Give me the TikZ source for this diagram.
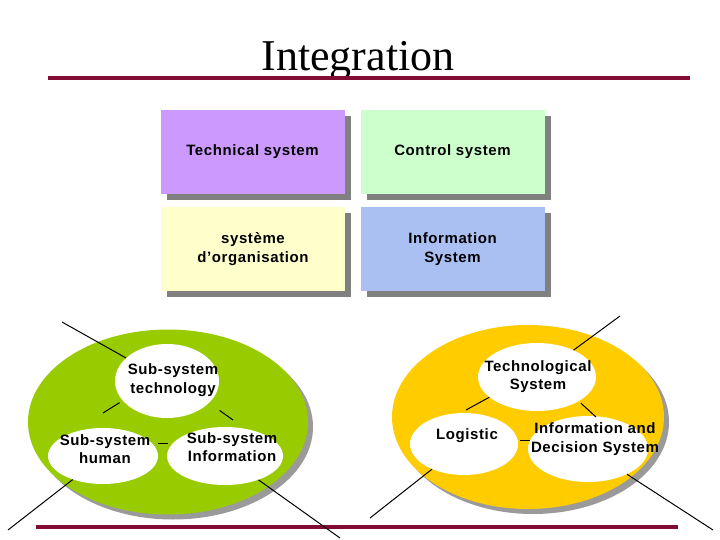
\documentclass[tikz,border=0pt]{standalone}
\usepackage{fontspec}
\setmainfont{Liberation Sans}
\newfontfamily\titlefont{Liberation Serif}
\newfontfamily\lblfont[LetterSpace=4]{Liberation Sans}
\usetikzlibrary{shapes.geometric,shadows}
\definecolor{maroon}{HTML}{820C33}
\definecolor{techc}{HTML}{CC99FF}
\definecolor{ctrlc}{HTML}{CCFFCC}
\definecolor{orgc}{HTML}{FFFFCC}
\definecolor{infoc}{HTML}{AABFF2}
\definecolor{greenc}{HTML}{99CC00}
\definecolor{orangec}{HTML}{FFCC00}
\definecolor{boxshadow}{HTML}{808080}
\definecolor{ellshadow}{HTML}{9A9A9A}
\tikzset{
  rule/.style={draw=maroon, line width=4pt},
  box/.style={rectangle, minimum width=184pt, minimum height=84pt, inner sep=0pt,
    font=\lblfont\bfseries\fontsize{15}{19}\selectfont, align=center,
    drop shadow={shadow xshift=6pt, shadow yshift=-6pt, fill=boxshadow, opacity=1}},
  bigell/.style={ellipse, inner sep=0pt,
    drop shadow={shadow xshift=5pt, shadow yshift=-5pt, fill=ellshadow, opacity=1}},
  ell/.style={ellipse, fill=white, inner sep=0pt},
  txt/.style={font=\lblfont\bfseries\fontsize{15}{18.5}\selectfont, align=center, inner sep=0pt},
  link/.style={draw=black, line width=1pt}
}
\begin{document}
\begin{tikzpicture}[x=1pt,y=-1pt]
\useasboundingbox[fill=white] (0,0) rectangle (720,540);
% title
\node[font=\titlefont\fontsize{44}{50}\selectfont, anchor=base, inner sep=0pt] (title) at (358,71) {Integration};
\coordinate (t1) at (48,78); \coordinate (t2) at (690,78);
\draw[rule] (t1) -- (t2);
\coordinate (b1) at (36,527); \coordinate (b2) at (678,527);
\draw[rule] (b1) -- (b2);
% boxes
\node[box, fill=techc] (tsys) at (252.5,152) {\raisebox{-2pt}{Technical system}};
\node[box, fill=ctrlc] (csys) at (452.5,152) {\raisebox{-1pt}{Control system}};
\node[box, fill=orgc] (osys) at (253,249) {système\\d’organisation};
\node[box, fill=infoc] (isys) at (452.5,249) {Information\\System};
% big ellipses
\node[bigell, fill=greenc, minimum width=280pt, minimum height=185pt] (green) at (168,422) {};
\node[bigell, fill=orangec, minimum width=272pt, minimum height=184pt] (orange) at (528,417) {};
% inner ellipses, green
\node[ell, minimum width=104pt, minimum height=74pt] (tech) at (167,381) {};
\node[ell, minimum width=110pt, minimum height=56pt] (human) at (103,456) {};
\node[ell, minimum width=116pt, minimum height=58pt] (sinfo) at (225,456) {};
\node[txt] (techt) at (173,380) {Sub-system\\technology};
\node[txt] (humant) at (105,449) {Sub-system\\human};
\node[txt] (sinfot) at (232,447) {Sub-system\\Information};
% inner ellipses, orange
\node[ell, minimum width=118pt, minimum height=68pt] (techo) at (537,377) {};
\node[ell, minimum width=108pt, minimum height=62pt] (logi) at (464,444) {};
\node[ell, minimum width=120pt, minimum height=66pt] (ids) at (588,449) {};
\node[txt] (techot) at (538,376.5) {Technological\\System};
\node[txt] (logit) at (467,436) {Logistic};
\node[txt] (idst) at (595,439) {Information and\\Decision System};
% short links
\coordinate (h1) at (103,413);
\coordinate (h2) at (233,420);
\coordinate (h3) at (168,443);
\draw[link] ([xshift=-5pt]tech.207) -- (h1);
\draw[link] ([shift={(12pt,-6pt)}]tech.330) -- (h2);
\draw[link] (human.east |- h3) -- (h3);
\coordinate (k1) at (466,410);
\coordinate (k2) at (596,417);
\coordinate (k3) at (530,440);
\draw[link] (techo.203) -- (k1);
\draw[link] ([shift={(2pt,-2pt)}]techo.330) -- (k2);
\draw[link] ([xshift=2pt]logi.east |- k3) -- (k3);
% long links
\coordinate (g1) at (62,322);
\coordinate (g2) at (8,530);
\coordinate (g3) at (340,538);
\coordinate (o1) at (620,316);
\coordinate (o2) at (370,518);
\coordinate (o3) at (713,530);
\draw[link] (g1) -- (tech);
\draw[link] (g2) -- (human);
\draw[link] (g3) -- (sinfo);
\draw[link] (o1) -- (techo);
\draw[link] (o2) -- (logi);
\draw[link] (o3) -- (ids);
\end{tikzpicture}
\end{document}
